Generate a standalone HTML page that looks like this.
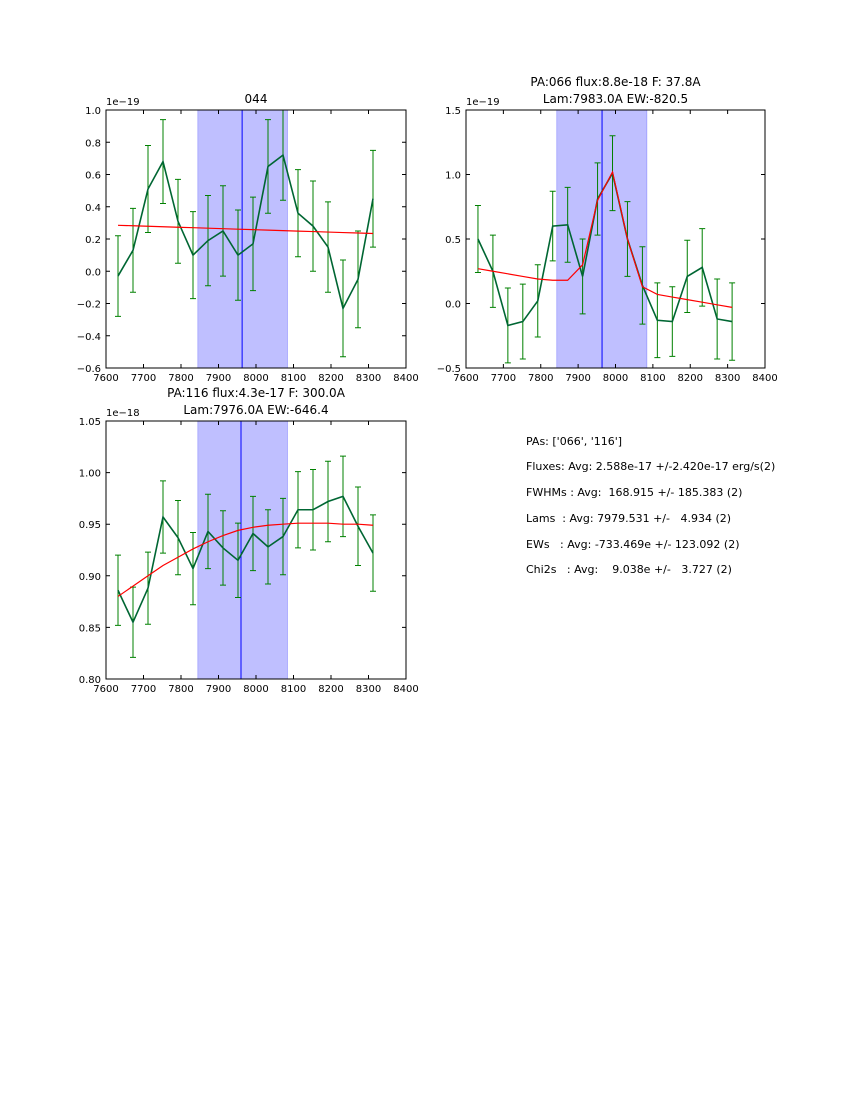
<!DOCTYPE html>
<html><head><meta charset="utf-8"><style>
body{margin:0;background:#fff;}
svg{font-family:"DejaVu Sans","Liberation Sans",sans-serif;}
#stats text{white-space:pre;}
</style></head><body>
<svg id="fig" width="850" height="1100" xmlns="http://www.w3.org/2000/svg">
<rect width="850" height="1100" fill="#fff"/>
<g id="stats" font-size="11" fill="#000" xml:space="preserve">
<text x="526" y="445">PAs: ['066', '116']</text>
<text x="526" y="470">Fluxes: Avg: 2.588e-17 +/-2.420e-17 erg/s(2)</text>
<text x="526" y="496">FWHMs : Avg:  168.915 +/- 185.383 (2)</text>
<text x="526" y="522">Lams  : Avg: 7979.531 +/-   4.934 (2)</text>
<text x="526" y="548">EWs   : Avg: -733.469e +/- 123.092 (2)</text>
<text x="526" y="573">Chi2s   : Avg:    9.038e +/-   3.727 (2)</text>
</g>
</svg>
<script>
const waves=[7632,7672,7712,7752,7792,7832,7872,7912,7952,7992,8032,8072,8112,8152,8192,8232,8272,8312];
const flux1=[-0.03,0.13,0.51,0.68,0.31,0.10,0.19,0.25,0.10,0.17,0.65,0.72,0.36,0.28,0.15,-0.23,-0.05,0.45];
const err1=[0.25,0.26,0.27,0.26,0.26,0.27,0.28,0.28,0.28,0.29,0.29,0.28,0.27,0.28,0.28,0.30,0.30,0.30];
const model1=[0.285,0.282,0.279,0.276,0.273,0.270,0.267,0.264,0.261,0.258,0.255,0.252,0.249,0.246,0.243,0.240,0.237,0.234];
const flux2=[0.50,0.25,-0.17,-0.14,0.02,0.60,0.61,0.21,0.81,1.01,0.50,0.14,-0.13,-0.14,0.21,0.28,-0.12,-0.14];
const err2=[0.26,0.28,0.29,0.29,0.28,0.27,0.29,0.29,0.28,0.29,0.29,0.30,0.29,0.27,0.28,0.30,0.31,0.30];
const model2=[0.27,0.25,0.23,0.21,0.19,0.18,0.18,0.30,0.80,1.02,0.50,0.13,0.07,0.05,0.03,0.01,-0.01,-0.03];
const flux3=[0.886,0.855,0.888,0.957,0.937,0.907,0.943,0.927,0.915,0.941,0.928,0.938,0.964,0.964,0.972,0.977,0.948,0.922];
const err3=[0.034,0.034,0.035,0.035,0.036,0.035,0.036,0.036,0.036,0.036,0.036,0.037,0.037,0.039,0.039,0.039,0.038,0.037];
const model3=[0.880,0.890,0.900,0.910,0.918,0.926,0.933,0.939,0.944,0.947,0.949,0.950,0.951,0.951,0.951,0.950,0.950,0.949];
const xTicks=[7600,7700,7800,7900,8000,8100,8200,8300,8400];
const yTicks1=[-0.6,-0.4,-0.2,0.0,0.2,0.4,0.6,0.8,1.0];
const yTicks2=[-0.5,0.0,0.5,1.0,1.5];
const yTicks3=[0.80,0.85,0.90,0.95,1.00,1.05];
const spans=[[7845,8084,7963],[7843,8084,7964],[7845,8084,7960]];
const NS="http://www.w3.org/2000/svg";
const fig=document.getElementById('fig');
function mk(tag,attrs,parent){const e=document.createElementNS(NS,tag);for(const k in attrs)e.setAttribute(k,attrs[k]);(parent||fig).appendChild(e);return e;}
function panel(name,L,T,W,H,ymin,ymax,yt,ydec,flux,err,model,span,titles,exp){
  const g=mk('g',{});
  
  
  const xs=v=>L+(v-7600)/800*W, ys=v=>T+H-(v-ymin)/(ymax-ymin)*H;
  const sp=mk('rect',{x:xs(span[0]),y:T,width:xs(span[1])-xs(span[0]),height:H,fill:'#bfbfff',stroke:'#8080ff','stroke-width':0.5},g);
  
  
  const vl=mk('line',{x1:xs(span[2]),x2:xs(span[2]),y1:T,y2:T+H,stroke:'#0000ff','stroke-width':1},g);
  
  
  waves.forEach((w,i)=>{const x=xs(w),y1=ys(flux[i]+err[i]),y2=ys(flux[i]-err[i]);
    const eb=mk('path',{d:`M${x},${y1}V${y2}M${x-3},${y1}H${x+3}M${x-3},${y2}H${x+3}`,stroke:'#008000','stroke-width':1,fill:'none'},g);
    
    });
  const dl=mk('polyline',{points:waves.map((w,i)=>xs(w)+','+ys(flux[i])).join(' '),fill:'none',stroke:'#006633','stroke-width':1.6},g);
  
  
  const ml=mk('polyline',{points:waves.map((w,i)=>xs(w)+','+ys(model[i])).join(' '),fill:'none',stroke:'#ff0000','stroke-width':1.2},g);
  
  
  mk('rect',{x:L,y:T,width:W,height:H,fill:'none',stroke:'#000','stroke-width':1},g);
  xTicks.forEach(t=>{const x=xs(t);mk('path',{d:`M${x},${T+H}v-4M${x},${T}v4`,stroke:'#000'},g);
    const tx=mk('text',{x:x,y:T+H+13,'font-size':10,'text-anchor':'middle'},g);tx.textContent=t;
    
    });
  yt.forEach(t=>{const y=ys(t);mk('path',{d:`M${L},${y}h4M${L+W},${y}h-4`,stroke:'#000'},g);
    const tx=mk('text',{x:L-5,y:y+4,'font-size':10,'text-anchor':'end'},g);tx.textContent=t.toFixed(ydec).replace('-','\u2212');
    
    });
  const ex=mk('text',{x:L,y:T-5,'font-size':10},g);ex.textContent=exp;
  
  
  titles.forEach((s,i)=>{const tt=mk('text',{x:L+W/2,y:T-7-(titles.length-1-i)*17,'font-size':12,'text-anchor':'middle'},g);tt.textContent=s;
    
    });
}
panel('panel-044',106,110,300,258,-0.6,1.0,yTicks1,1,flux1,err1,model1,spans[0],['044'],'1e\u221219');
panel('panel-066',466,110,299,258,-0.5,1.5,yTicks2,1,flux2,err2,model2,spans[1],['PA:066 flux:8.8e-18 F: 37.8A','Lam:7983.0A EW:-820.5'],'1e\u221219');
panel('panel-116',106,421,300,258,0.80,1.05,yTicks3,2,flux3,err3,model3,spans[2],['PA:116 flux:4.3e-17 F: 300.0A','Lam:7976.0A EW:-646.4'],'1e\u221218');
</script>
</body></html>
